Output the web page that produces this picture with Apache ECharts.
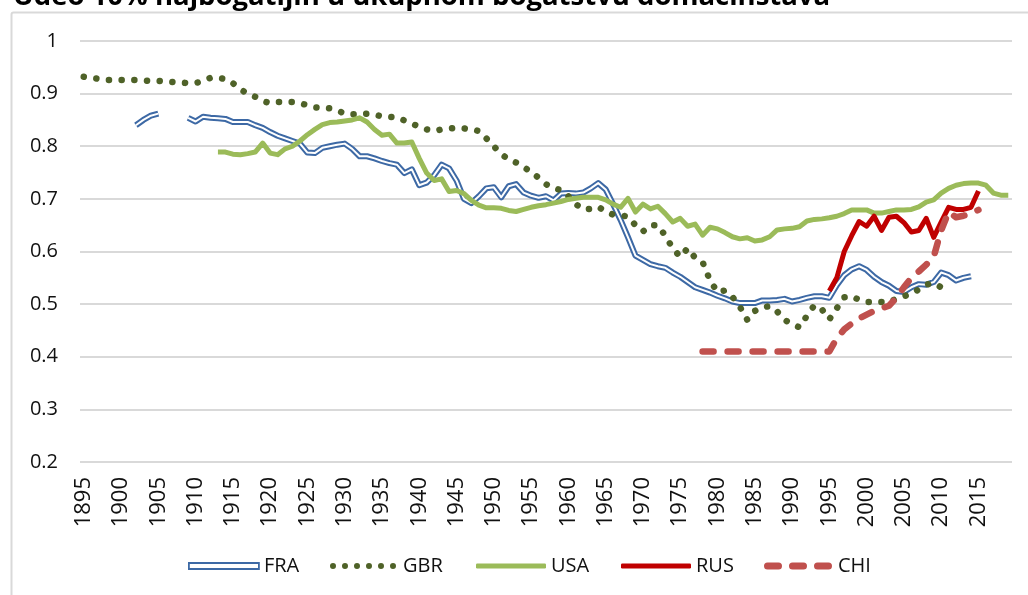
<!DOCTYPE html>
<html>
<head>
<meta charset="utf-8">
<script src="https://cdn.jsdelivr.net/npm/echarts@6/dist/echarts.min.js"></script>
<style>
html,body{margin:0;padding:0;background:#fff;}
#chart{width:1028px;height:595px;}
</style>
</head>
<body>
<div id="chart"></div>
<script>
const titleText = 'Udeo 10% najbogatijih u ukupnom bogatstvu domaćinstava';
const firstYear = 1895;
const lastYear = 2019;
const seriesNames = ['FRA', 'GBR', 'USA', 'RUS', 'CHI'];

// FRA from 1902 (null = no data)
const fraStart = 1902;
const fra = [0.840, 0.850, 0.858, 0.862, null, null, null,
  0.854, 0.847, 0.856, 0.854, 0.853, 0.852, 0.846, 0.846, 0.846, 0.840, 0.835,
  0.827, 0.820, 0.815, 0.810, 0.805, 0.788, 0.787, 0.797, 0.800, 0.803,
  0.805, 0.795, 0.781, 0.781, 0.777, 0.772, 0.768, 0.765, 0.749, 0.756,
  0.726, 0.731, 0.745, 0.765, 0.758, 0.735, 0.700, 0.692, 0.705, 0.720,
  0.722, 0.703, 0.724, 0.728, 0.712, 0.706, 0.702, 0.705, 0.697, 0.710,
  0.711, 0.710, 0.712, 0.720, 0.730, 0.718, 0.690, 0.660, 0.627, 0.592,
  0.584, 0.576, 0.572, 0.569, 0.560, 0.552, 0.542, 0.532, 0.527, 0.522,
  0.516, 0.511, 0.505, 0.502, 0.502, 0.502, 0.507, 0.507, 0.508, 0.510,
  0.505, 0.508, 0.512, 0.515, 0.515, 0.512, 0.536, 0.555, 0.566, 0.572,
  0.565, 0.552, 0.542, 0.535, 0.525, 0.523, 0.532, 0.538, 0.537, 0.542,
  0.560, 0.555, 0.545, 0.550, 0.553];

// GBR from 1895
const gbrStart = 1895;
const gbr = [0.932, 0.930, 0.928, 0.926, 0.926,
  0.926, 0.926, 0.926, 0.925, 0.924, 0.924, 0.923, 0.922, 0.921, 0.920,
  0.920, 0.924, 0.930, 0.930, 0.928, 0.920, 0.908, 0.900, 0.894, 0.886,
  0.882, 0.884, 0.884, 0.884, 0.882, 0.878, 0.874, 0.873, 0.872, 0.868,
  0.862, 0.861, 0.861, 0.862, 0.860, 0.857, 0.856, 0.855, 0.849, 0.843,
  0.837, 0.832, 0.829, 0.832, 0.834, 0.835, 0.834, 0.832, 0.829, 0.815,
  0.800, 0.785, 0.775, 0.769, 0.760, 0.752, 0.740, 0.728, 0.720, 0.717,
  0.705, 0.690, 0.680, 0.681, 0.685, 0.676, 0.670, 0.669, 0.666, 0.650,
  0.638, 0.650, 0.650, 0.630, 0.606, 0.590, 0.606, 0.588, 0.580, 0.545,
  0.523, 0.526, 0.514, 0.495, 0.470, 0.487, 0.494, 0.496, 0.486, 0.470,
  0.462, 0.456, 0.478, 0.498, 0.490, 0.471, 0.492, 0.513, 0.515, 0.508,
  0.504, 0.504, 0.504, 0.504, 0.510, 0.515, 0.520, 0.528, 0.537, 0.540,
  0.532];

// USA from 1913
const usaStart = 1913;
const usa = [0.789, 0.789, 0.785, 0.784, 0.786, 0.789, 0.806,
  0.787, 0.784, 0.795, 0.800, 0.810, 0.822, 0.832, 0.841, 0.845, 0.846,
  0.848, 0.850, 0.854, 0.846, 0.832, 0.821, 0.823, 0.806, 0.806, 0.808,
  0.777, 0.749, 0.735, 0.738, 0.714, 0.716, 0.710, 0.697, 0.688, 0.683,
  0.683, 0.682, 0.678, 0.676, 0.680, 0.684, 0.687, 0.689, 0.692, 0.695,
  0.699, 0.701, 0.703, 0.703, 0.703, 0.698, 0.690, 0.684, 0.701, 0.675,
  0.690, 0.681, 0.686, 0.672, 0.656, 0.663, 0.648, 0.652, 0.631, 0.646,
  0.643, 0.636, 0.628, 0.624, 0.626, 0.620, 0.622, 0.628, 0.641, 0.643,
  0.644, 0.647, 0.658, 0.661, 0.662, 0.664, 0.667, 0.672, 0.679, 0.679,
  0.679, 0.673, 0.673, 0.676, 0.679, 0.679, 0.680, 0.685, 0.694, 0.698,
  0.711, 0.720, 0.726, 0.729, 0.730, 0.730, 0.726, 0.711, 0.707, 0.707];

// RUS from 1995
const rusStart = 1995;
const rus = [0.525, 0.550, 0.600, 0.630, 0.657,
  0.648, 0.667, 0.640, 0.665, 0.667, 0.655, 0.637, 0.640, 0.663, 0.627,
  0.656, 0.684, 0.680, 0.680, 0.684, 0.715];

// CHI from 1978
const chiStart = 1978;
const chi = [0.410, 0.410,
  0.410, 0.410, 0.410, 0.410, 0.410, 0.410, 0.410, 0.410, 0.410, 0.410,
  0.410, 0.410, 0.410, 0.410, 0.410, 0.410, 0.435, 0.452, 0.463, 0.473,
  0.480, 0.487, 0.492, 0.497, 0.512, 0.532, 0.550, 0.562, 0.575, 0.590,
  0.640, 0.675, 0.665, 0.668, 0.672, 0.679];

const years = [];
for (let y = firstYear; y <= lastYear; y++) years.push(String(y));

function align(start, vals) {
  return years.map(function (y) {
    const i = Number(y) - start;
    return (i >= 0 && i < vals.length) ? vals[i] : null;
  });
}

const FONT = "'Open Sans', 'Noto Sans', sans-serif";
const colFRA = '#3d69a5', colGBR = '#4f6228', colUSA = '#9bbb59', colRUS = '#c00000', colCHI = '#c0504d';

function dots(n) {
  let p = '';
  for (let i = 0; i < n; i++) {
    const x = i * 12;
    p += 'M' + x + ',3a3,3 0 1,0 6,0a3,3 0 1,0 -6,0z';
  }
  return 'path://' + p;
}
function dashes(n) {
  let p = '';
  for (let i = 0; i < n; i++) {
    const x = i * 25;
    p += 'M' + (x + 3.5) + ',0h11a3.5,3.5 0 0,1 0,7h-11a3.5,3.5 0 0,1 0,-7z';
  }
  return 'path://' + p;
}

function mkLegend(name, left, icon, itemStyle, h) {
  return {
    left: left, top: 556, padding: 0, itemWidth: 70, itemHeight: h, itemGap: 0,
    selectedMode: false,
    textStyle: {fontFamily: FONT, fontSize: 20, color: '#111', padding: [0, 0, 0, 0]},
    data: [{name: name, icon: icon, itemStyle: itemStyle}]
  };
}

const chart = echarts.init(document.getElementById('chart'), null, {renderer: 'canvas'});
chart.setOption({
  animation: false,
  backgroundColor: '#fff',
  title: {
    text: titleText, left: 8, top: -22,
    textStyle: {fontFamily: FONT, fontSize: 27.5, fontWeight: 'bold', color: '#000'}
  },
  graphic: [{
    type: 'rect', silent: true, z: -10,
    shape: {x: 11.5, y: 12.5, width: 1040, height: 600, r: 2},
    style: {fill: 'none', stroke: '#d9d9d9', lineWidth: 2}
  }],
  legend: [
    mkLegend('FRA', 188, 'rect', {color: '#fff', borderColor: colFRA, borderWidth: 1.8}, 6),
    mkLegend('GBR', 330, dots(6), {color: colGBR, borderWidth: 0}, 6),
    mkLegend('USA', 476, 'roundRect', {color: colUSA, borderWidth: 0}, 5),
    mkLegend('RUS', 621, 'roundRect', {color: colRUS, borderWidth: 0}, 5),
    mkLegend('CHI', 764, dashes(3), {color: colCHI, borderWidth: 0}, 7)
  ],
  grid: {left: 80, right: 16, top: 41, bottom: 133, containLabel: false},
  xAxis: {
    type: 'category', data: years, boundaryGap: true,
    axisLine: {show: false}, axisTick: {show: false},
    axisLabel: {interval: 4, rotate: 90, margin: 15, fontFamily: FONT, fontSize: 22, color: '#111'}
  },
  yAxis: {
    type: 'value', min: 0.2, max: 1, interval: 0.1,
    axisLine: {show: false}, axisTick: {show: false},
    axisLabel: {margin: 22, fontFamily: FONT, fontSize: 20, color: '#111',
      formatter: function (v) { return String(Math.round(v * 10) / 10); }},
    splitLine: {lineStyle: {color: '#d9d9d9', width: 2}}
  },
  series: [
    {name: 'FRA', type: 'line', data: align(fraStart, fra), showSymbol: false, symbol: 'none',
      connectNulls: false, lineStyle: {color: colFRA, width: 6, join: 'round'}, itemStyle: {color: colFRA}},
    {name: 'FRA-inner', type: 'line', data: align(fraStart, fra), showSymbol: false, symbol: 'none',
      connectNulls: false, lineStyle: {color: '#ffffff', width: 2, join: 'round'}, itemStyle: {color: '#fff'}},
    {name: 'GBR', type: 'line', data: align(gbrStart, gbr), showSymbol: false, symbol: 'none',
      lineStyle: {color: colGBR, width: 6.5, type: [0.1, 12.6], cap: 'round', join: 'round'}, itemStyle: {color: colGBR}},
    {name: 'USA', type: 'line', data: align(usaStart, usa), showSymbol: false, symbol: 'none',
      lineStyle: {color: colUSA, width: 5, join: 'round'}, itemStyle: {color: colUSA}},
    {name: 'RUS', type: 'line', data: align(rusStart, rus), showSymbol: false, symbol: 'none',
      lineStyle: {color: colRUS, width: 5, join: 'round'}, itemStyle: {color: colRUS}},
    {name: 'CHI', type: 'line', data: align(chiStart, chi), showSymbol: false, symbol: 'none',
      lineStyle: {color: colCHI, width: 6.5, type: [11, 14], cap: 'round', join: 'round'}, itemStyle: {color: colCHI}}
  ]
});
</script>
</body>
</html>
